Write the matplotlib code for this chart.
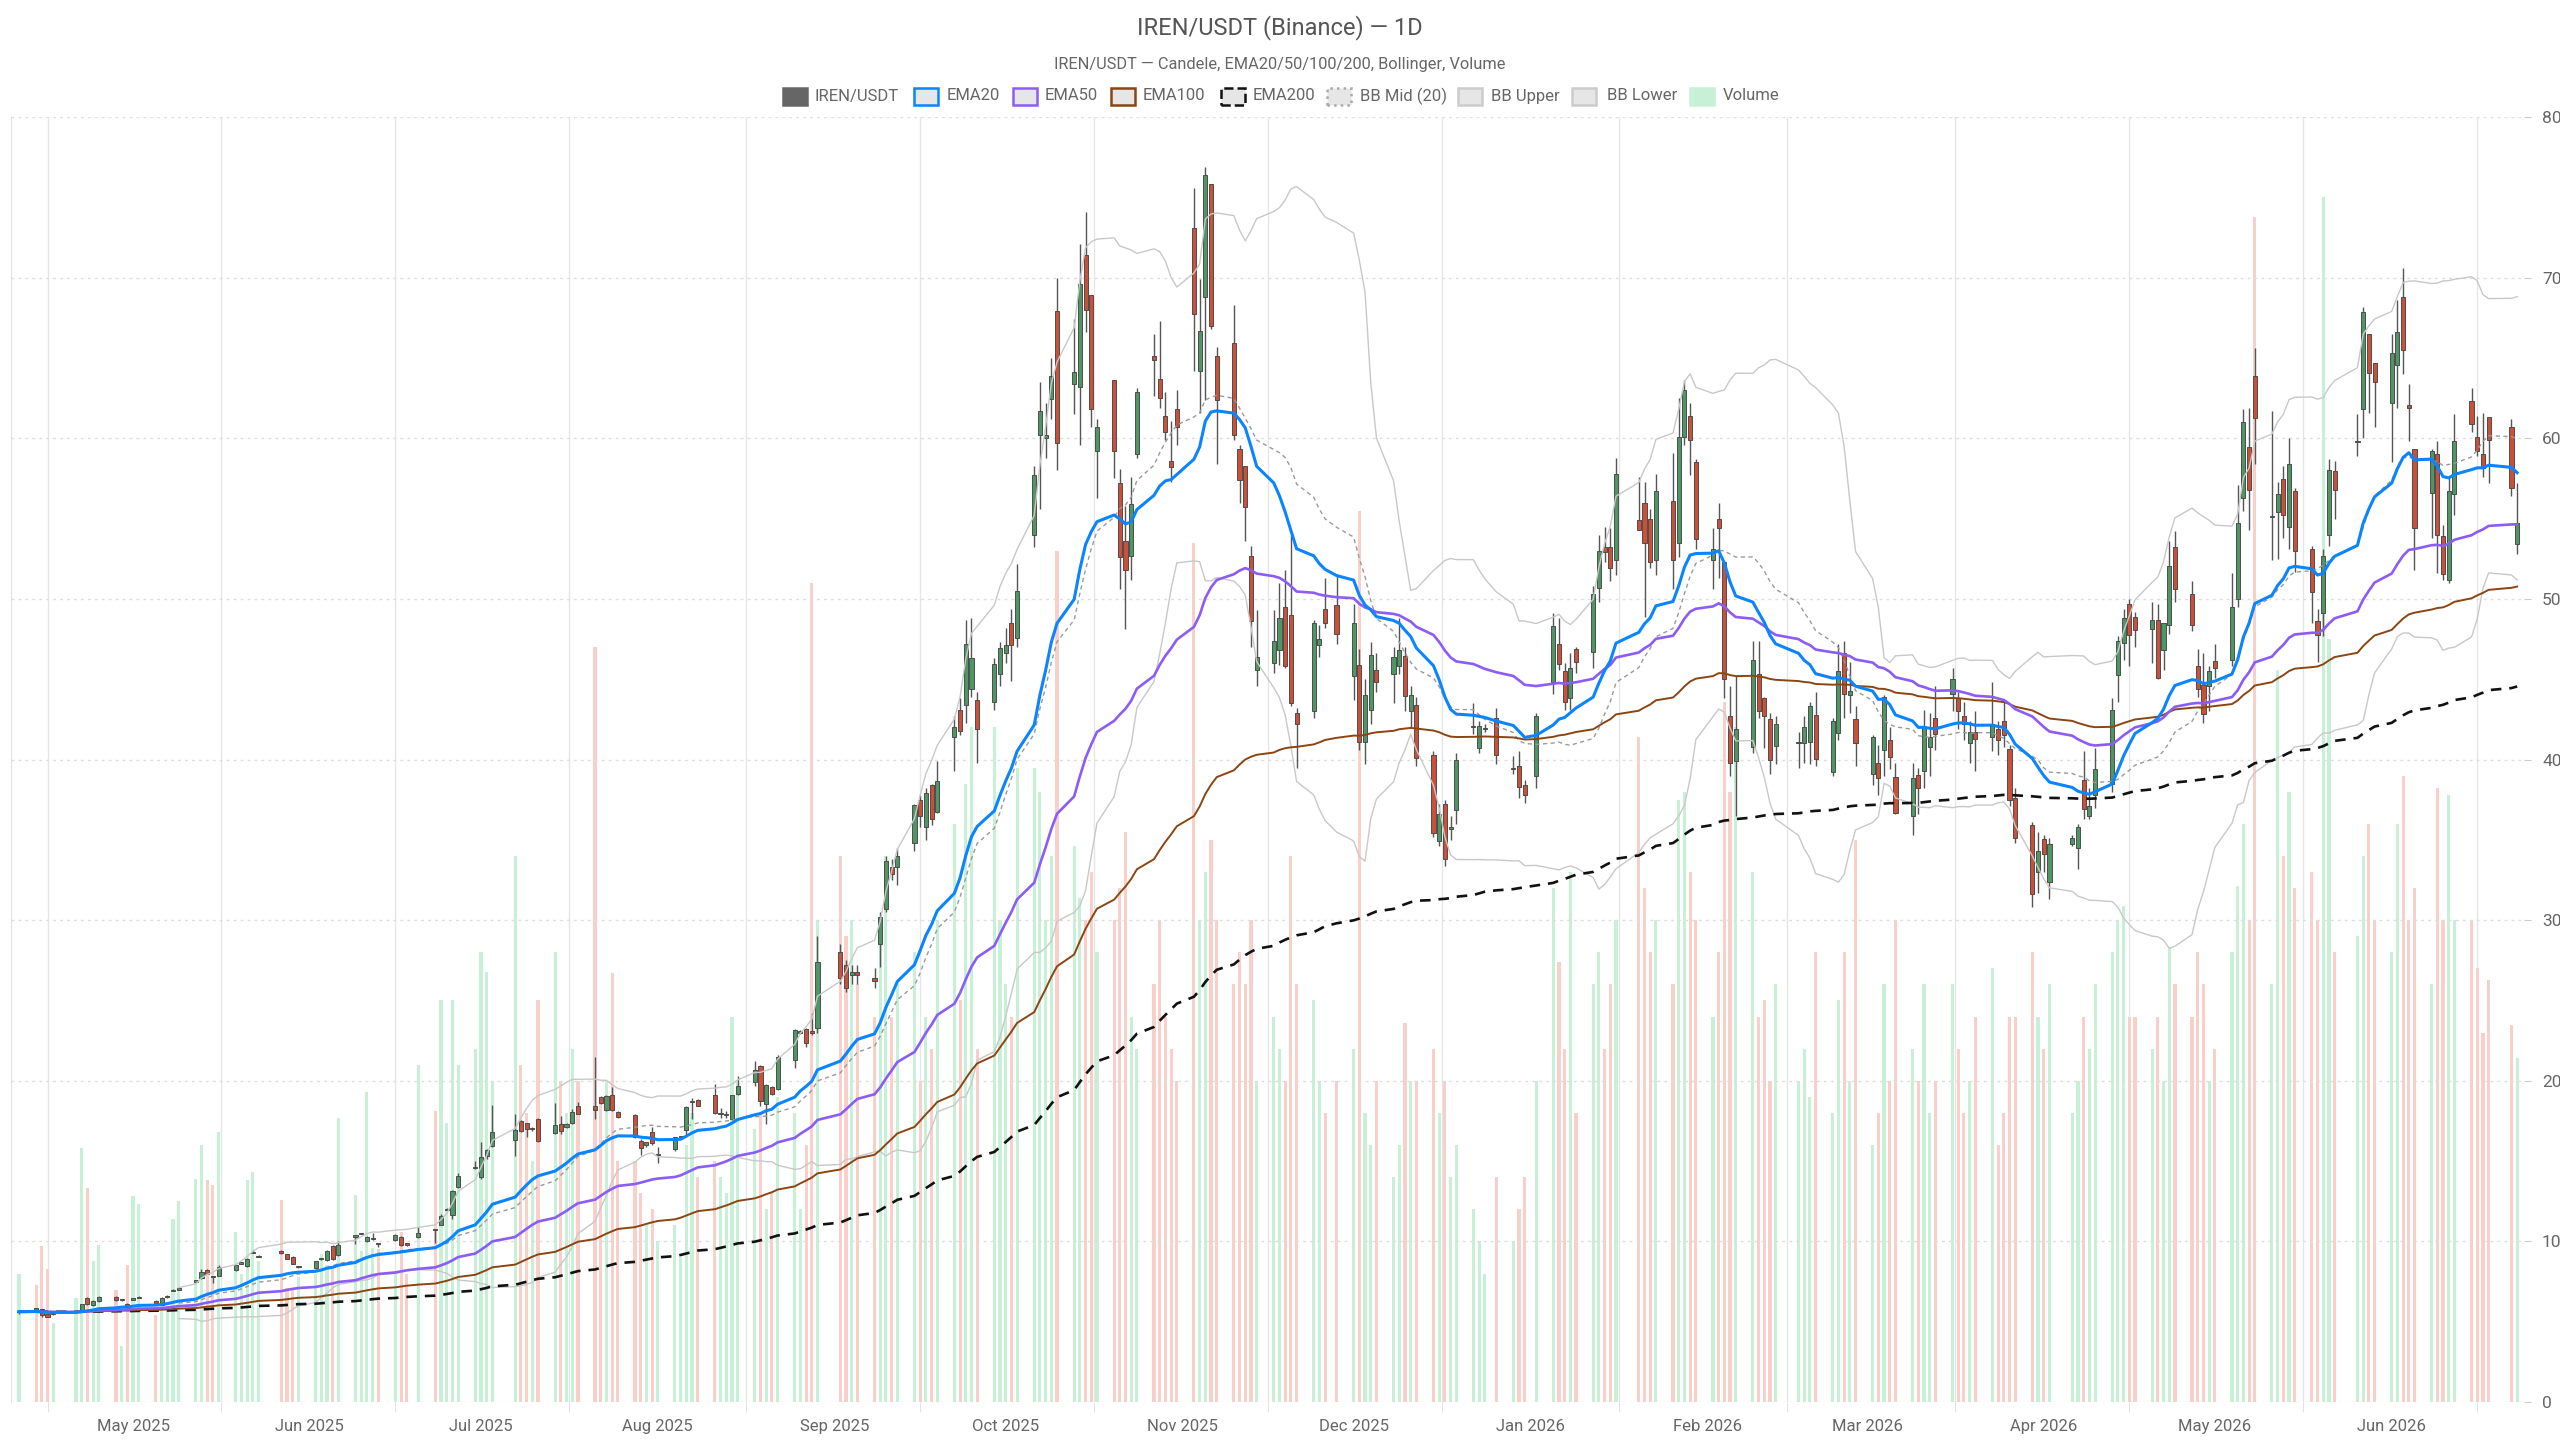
import numpy as np
import pandas as pd
import matplotlib
matplotlib.use("Agg")
import matplotlib.pyplot as plt
import matplotlib.dates as mdates
from matplotlib.patches import Rectangle

plt.rcParams['font.family'] = ['Roboto', 'DejaVu Sans']

# US market holidays inside the range (no candles on these days)
holidays = ["2025-04-18", "2025-05-26", "2025-06-19", "2025-07-04", "2025-09-01",
            "2025-11-27", "2025-12-25", "2026-01-01", "2026-01-19", "2026-02-16",
            "2026-04-03", "2026-05-25", "2026-06-19"]

# one line per week
opens = [
    5.60,
    5.83, 5.77, 5.45, 5.48,
    5.58, 5.68, 6.48, 6.05, 6.30,
    6.56, 6.35, 6.12, 6.38, 6.48,
    6.30, 6.05, 6.55, 6.92, 7.00,
    7.50, 7.70, 8.22, 7.82, 7.85,
    8.19, 8.62, 8.44, 9.28, 9.05,
    9.42, 9.20, 9.04, 8.40,
    8.33, 8.88, 8.85, 9.70, 9.17,
    10.30, 10.48, 10.00, 10.15, 9.88,
    10.10, 10.30, 9.82, 10.25,
    10.72, 11.03, 11.94, 11.65, 13.37,
    14.56, 14.00, 15.29, 15.95,
    16.30, 17.47, 17.36, 17.00, 17.61,
    16.74, 17.30, 17.10, 17.36, 18.44,
    18.44, 18.96, 18.19, 19.13, 18.03,
    17.84, 16.28, 15.99, 16.78, 15.39,
    15.76, 16.50, 16.95, 18.67, 18.80,
    19.09, 17.94, 17.88, 17.63, 19.20,
    19.92, 20.90, 18.57, 19.60, 19.48,
    21.30, 22.95, 23.22, 23.10, 23.30,
    28.00, 27.20, 26.60, 26.80,
    26.40, 28.50, 30.70, 33.30, 33.30,
    34.80, 37.46, 35.80, 38.40, 36.76,
    41.40, 43.07, 43.40, 44.36, 43.70,
    43.60, 45.35, 46.64, 48.50, 47.54,
    54.00, 60.20, 60.00, 62.45, 67.90,
    63.40, 63.20, 71.40, 68.90, 59.20,
    63.60, 57.20, 53.60, 52.70, 59.00,
    65.10, 63.70, 61.40, 58.60, 61.80,
    73.10, 64.20, 68.80, 75.80, 65.10,
    65.90, 59.30, 58.30, 52.70, 45.60,
    46.00, 46.80, 49.50, 49.00, 42.90,
    43.00, 47.10, 49.40, 49.60,
    45.20, 45.90, 41.10, 43.10, 45.60,
    45.30, 45.80, 46.45, 43.00, 43.40,
    40.30, 34.90, 37.20, 35.70, 36.85,
    42.00, 40.70, 41.90, 42.60,
    39.40, 39.60, 38.40, 39.00,
    44.80, 47.20, 45.50, 43.80, 46.90,
    46.70, 50.70, 53.20, 53.20, 52.45,
    54.90, 56.00, 55.00, 52.40,
    56.10, 53.50, 60.10, 61.40, 58.50,
    52.40, 55.00, 52.30, 42.70, 39.90,
    40.80, 45.30, 43.80, 42.55, 40.85,
    41.00, 41.00, 41.10, 42.80,
    39.20, 41.65, 46.60, 44.00, 42.50,
    39.10, 39.80, 40.60, 41.20, 38.90,
    36.50, 39.05, 39.30, 40.80, 42.60,
    44.10, 43.80, 42.70, 41.00, 41.70,
    41.40, 41.90, 42.40, 40.65, 37.60,
    35.90, 33.00, 35.05, 32.40,
    34.75, 34.50, 38.75, 36.50, 37.80,
    38.45, 45.25, 47.25, 49.70, 48.90,
    48.10, 48.70, 46.80, 48.35, 53.25,
    50.30, 45.85, 44.65, 44.60, 46.15,
    46.20, 50.00, 56.30, 59.45, 63.90,
    55.10, 55.40, 57.45, 54.50, 56.70,
    53.10, 48.60, 49.10, 54.00, 57.95,
    59.75, 61.80, 66.50, 64.70,
    62.20, 64.55, 68.80, 62.10, 59.30,
    56.60, 59.00, 53.90, 51.20, 56.50,
    62.30, 60.05, 59.00, 61.30,
    60.70, 53.40,
]
highs = [
    5.68,
    5.86, 5.80, 5.50, 5.58,
    5.64, 6.12, 6.55, 6.32, 6.62,
    6.60, 6.40, 6.15, 6.45, 6.58,
    6.35, 6.55, 6.65, 7.05, 7.12,
    7.62, 8.25, 8.26, 7.84, 8.55,
    8.60, 8.70, 8.95, 9.48, 9.15,
    9.45, 9.22, 9.06, 8.45,
    8.78, 8.95, 9.45, 9.75, 10.00,
    10.35, 10.55, 10.35, 10.52, 9.92,
    10.45, 10.35, 9.85, 10.90,
    10.80, 11.70, 12.10, 13.20, 14.25,
    15.00, 16.20, 15.75, 18.50,
    17.90, 17.55, 17.40, 17.10, 17.70,
    18.60, 17.80, 17.40, 18.25, 18.70,
    21.50, 19.05, 19.10, 19.60, 18.10,
    17.90, 16.35, 16.20, 17.10, 15.90,
    16.50, 16.55, 18.40, 18.90, 18.85,
    19.80, 18.30, 18.10, 19.10, 20.30,
    21.20, 21.00, 19.80, 19.65, 21.60,
    23.20, 23.15, 23.30, 24.20, 29.00,
    28.50, 27.50, 27.20, 27.20,
    27.00, 30.50, 34.00, 33.80, 34.50,
    37.20, 37.80, 38.20, 38.50, 39.90,
    42.70, 43.80, 48.70, 48.80, 44.20,
    46.30, 47.30, 48.20, 49.40, 52.20,
    58.30, 63.50, 62.20, 65.00, 70.00,
    67.40, 72.10, 74.10, 68.90, 61.20,
    63.60, 58.10, 55.80, 57.60, 63.10,
    66.50, 67.30, 62.90, 61.10, 63.00,
    75.60, 69.90, 76.90, 75.80, 65.70,
    68.30, 59.60, 58.30, 53.30, 49.30,
    49.30, 51.00, 51.80, 54.00, 43.20,
    48.70, 48.40, 51.30, 51.40,
    49.70, 46.90, 45.00, 47.30, 46.60,
    47.00, 48.80, 47.00, 44.60, 43.90,
    40.50, 37.20, 37.50, 36.50, 40.40,
    43.50, 42.40, 42.20, 43.20,
    40.20, 40.50, 38.70, 42.90,
    49.10, 48.80, 46.00, 46.60, 47.00,
    50.80, 54.00, 54.50, 54.40, 58.80,
    57.60, 57.30, 55.60, 57.80,
    59.10, 62.50, 63.60, 62.20, 58.70,
    54.40, 56.00, 52.30, 44.60, 45.20,
    47.40, 47.40, 43.90, 42.90, 42.70,
    41.70, 42.70, 43.60, 44.20,
    42.60, 47.20, 47.40, 46.10, 43.30,
    41.50, 40.90, 44.00, 42.00, 39.80,
    39.80, 39.50, 43.10, 42.90, 44.60,
    45.70, 44.20, 43.60, 42.40, 43.00,
    44.80, 42.40, 43.60, 40.90, 38.20,
    36.10, 35.50, 35.30, 35.10,
    35.30, 36.00, 40.50, 38.20, 40.70,
    43.80, 47.70, 49.40, 50.00, 49.20,
    49.80, 49.70, 48.30, 53.60, 54.20,
    51.10, 46.90, 46.60, 45.80, 47.20,
    51.60, 57.10, 61.80, 61.90, 65.60,
    61.70, 57.30, 58.30, 60.00, 56.90,
    53.30, 49.40, 53.10, 58.70, 58.60,
    61.50, 68.20, 66.50, 64.70,
    66.50, 68.60, 70.60, 63.40, 59.30,
    59.30, 59.80, 54.60, 57.60, 61.50,
    63.10, 61.40, 61.60, 61.30,
    61.20, 57.20,
]
lows = [
    5.50,
    5.70, 5.30, 5.28, 5.44,
    5.55, 5.64, 6.05, 6.00, 6.25,
    6.30, 6.30, 5.73, 6.32, 6.45,
    6.15, 6.02, 6.50, 6.90, 6.98,
    7.45, 7.65, 7.95, 7.40, 7.82,
    8.15, 8.60, 8.40, 9.25, 9.00,
    9.20, 8.88, 8.58, 8.35,
    8.30, 8.85, 8.80, 8.85, 9.12,
    9.85, 10.45, 9.98, 10.10, 9.65,
    10.05, 9.70, 9.72, 10.20,
    9.90, 11.00, 11.90, 11.40, 13.30,
    14.50, 13.90, 15.10, 15.90,
    15.30, 16.80, 16.50, 16.90, 16.20,
    16.70, 16.70, 17.05, 17.30, 17.90,
    17.60, 18.55, 18.10, 18.10, 17.65,
    16.45, 15.40, 15.90, 16.00, 14.90,
    15.60, 16.45, 16.60, 17.60, 18.40,
    17.95, 17.70, 17.70, 17.55, 19.10,
    19.70, 18.40, 17.30, 19.10, 19.40,
    20.80, 22.90, 22.10, 22.85, 23.00,
    26.00, 25.50, 26.00, 26.00,
    25.80, 27.10, 30.50, 32.50, 32.20,
    34.30, 35.80, 35.00, 35.90, 36.70,
    39.30, 41.50, 42.30, 43.90, 39.80,
    43.10, 44.60, 46.00, 44.90, 47.00,
    53.20, 55.60, 58.80, 61.20, 58.00,
    61.50, 59.60, 66.60, 60.70, 56.30,
    57.50, 50.60, 48.10, 51.20, 58.80,
    62.60, 61.90, 59.90, 57.30, 59.60,
    64.20, 61.60, 62.40, 66.80, 58.40,
    59.90, 56.00, 53.60, 47.00, 44.60,
    45.40, 45.90, 45.70, 43.30, 39.50,
    42.60, 46.40, 48.20, 47.20,
    43.70, 40.60, 39.70, 42.20, 44.20,
    43.50, 45.30, 43.00, 42.00, 39.60,
    35.20, 34.60, 33.40, 35.00, 36.00,
    41.60, 40.40, 41.70, 39.70,
    39.10, 37.60, 37.30, 38.20,
    44.10, 45.60, 43.10, 43.10, 45.40,
    45.70, 49.80, 52.30, 51.10, 51.50,
    54.30, 48.90, 51.90, 51.50,
    50.60, 52.60, 59.60, 57.70, 53.10,
    50.60, 51.30, 43.80, 39.00, 36.50,
    40.40, 42.60, 40.70, 39.10, 39.70,
    39.50, 39.80, 39.70, 39.60,
    38.95, 41.20, 42.60, 42.90, 39.60,
    38.40, 37.80, 39.00, 39.40, 36.60,
    35.30, 36.60, 38.20, 39.00, 40.60,
    43.00, 41.90, 41.20, 39.80, 39.30,
    40.50, 40.30, 40.80, 37.10, 34.80,
    30.80, 31.70, 33.00, 31.30,
    34.60, 33.20, 36.30, 36.30, 37.00,
    38.00, 43.60, 46.20, 45.80, 47.00,
    46.00, 45.00, 45.60, 47.80, 49.80,
    48.00, 43.90, 42.30, 43.00, 45.10,
    45.80, 49.50, 55.50, 54.30, 58.40,
    52.40, 52.50, 53.80, 53.10, 51.70,
    48.50, 46.10, 47.70, 53.30, 55.00,
    58.90, 60.00, 61.60, 60.70,
    58.50, 61.90, 64.00, 59.80, 51.80,
    53.80, 51.60, 51.20, 51.00, 55.20,
    60.40, 58.90, 57.60, 57.20,
    56.40, 52.80,
]
closes = [
    5.62,
    5.73, 5.42, 5.32, 5.52,
    5.61, 6.08, 6.10, 6.28, 6.55,
    6.35, 6.36, 5.98, 6.42, 6.52,
    6.18, 6.50, 6.58, 6.96, 7.05,
    7.54, 8.12, 8.00, 7.80, 8.40,
    8.56, 8.66, 8.90, 9.32, 9.12,
    9.27, 8.90, 8.60, 8.42,
    8.75, 8.92, 9.40, 8.90, 9.77,
    10.32, 10.50, 10.30, 10.18, 9.85,
    10.40, 9.80, 9.80, 10.50,
    10.70, 11.55, 11.96, 13.15, 14.04,
    14.58, 15.24, 15.70, 16.84,
    16.95, 16.90, 16.99, 17.02, 16.22,
    17.26, 16.90, 17.30, 18.05, 17.92,
    18.19, 18.60, 19.02, 18.15, 17.74,
    16.49, 15.80, 16.16, 16.12, 15.40,
    16.47, 16.52, 18.36, 18.68, 18.44,
    17.99, 17.95, 17.89, 19.09, 19.70,
    20.69, 18.71, 19.75, 19.17, 21.47,
    23.14, 23.10, 22.35, 23.00, 27.40,
    26.40, 25.80, 26.80, 26.60,
    26.20, 30.20, 33.65, 32.85, 33.97,
    37.15, 36.50, 37.90, 36.30, 38.67,
    42.00, 41.80, 47.20, 46.35, 41.90,
    45.97, 46.97, 47.15, 47.10, 50.50,
    57.70, 61.70, 60.20, 63.90, 59.70,
    64.10, 69.60, 68.00, 61.80, 60.70,
    59.20, 52.60, 51.80, 55.90, 62.90,
    64.90, 62.50, 60.40, 58.20, 60.70,
    67.75, 66.70, 76.40, 67.00, 62.40,
    60.20, 57.40, 55.70, 48.60, 46.40,
    47.40, 48.80, 45.80, 43.50, 42.20,
    48.50, 47.50, 48.50, 47.80,
    48.50, 41.10, 44.00, 46.50, 44.80,
    46.40, 46.80, 43.95, 44.00, 40.10,
    35.40, 36.60, 33.80, 35.75, 40.00,
    42.07, 42.07, 41.95, 40.30,
    39.45, 38.30, 37.80, 42.70,
    48.30, 45.95, 43.60, 45.70, 46.05,
    50.30, 53.00, 52.90, 51.90, 57.80,
    54.30, 53.50, 52.30, 56.70,
    52.40, 60.10, 63.00, 59.90, 53.70,
    53.10, 54.40, 45.00, 39.80, 41.90,
    46.20, 43.00, 42.70, 40.00, 42.20,
    41.05, 42.00, 43.30, 40.05,
    42.40, 45.50, 44.10, 44.25, 41.00,
    41.40, 38.85, 43.90, 40.15, 36.70,
    38.85, 38.20, 42.00, 41.40, 41.60,
    45.00, 43.00, 42.20, 41.70, 41.30,
    42.20, 41.20, 41.50, 37.50, 35.10,
    31.60, 34.30, 34.10, 34.75,
    35.10, 35.80, 36.90, 37.10, 39.40,
    43.10, 47.40, 48.80, 47.75, 48.05,
    48.70, 45.10, 48.50, 52.05, 50.60,
    48.40, 44.40, 42.85, 45.50, 45.70,
    49.50, 54.75, 61.00, 56.75, 61.25,
    55.15, 56.55, 55.20, 58.40, 52.95,
    50.45, 47.75, 52.70, 58.05, 56.80,
    59.80, 67.85, 64.05, 63.50,
    65.30, 66.60, 65.50, 61.90, 54.40,
    59.20, 54.00, 51.55, 56.70, 59.80,
    60.90, 59.20, 58.15, 59.90,
    56.90, 54.70,
]
# volume in thousands
volumes = [
    80,
    73, 97, 83, 49,
    65, 158, 133, 88, 98,
    70, 35, 85, 128, 123,
    54, 60, 60, 114, 125,
    139, 160, 138, 135, 168,
    106, 80, 138, 143, 88,
    126, 71, 70, 78,
    80, 92, 85, 83, 177,
    129, 94, 193, 96, 95,
    80, 106, 80, 210,
    181, 250, 174, 250, 210,
    220, 280, 268, 200,
    340, 210, 180, 150, 250,
    280, 200, 180, 220, 200,
    470, 190, 200, 267, 150,
    150, 130, 110, 120, 100,
    110, 90, 160, 180, 140,
    150, 140, 130, 240, 200,
    170, 180, 120, 130, 190,
    180, 120, 160, 510, 300,
    340, 290, 300, 260,
    240, 300, 340, 240, 260,
    280, 200, 240, 220, 300,
    360, 250, 385, 420, 220,
    420, 300, 260, 240, 395,
    395, 380, 300, 340, 530,
    346, 314, 300, 330, 280,
    300, 320, 355, 240, 220,
    260, 300, 240, 220, 200,
    535, 300, 330, 350, 300,
    260, 280, 260, 300, 200,
    240, 220, 200, 340, 260,
    250, 200, 180, 200,
    220, 555, 180, 160, 200,
    140, 160, 236, 200, 200,
    220, 180, 200, 140, 160,
    120, 100, 80, 140,
    100, 120, 140, 200,
    320, 274, 220, 330, 180,
    260, 280, 220, 260, 300,
    414, 320, 280, 300,
    260, 375, 380, 330, 300,
    240, 280, 436, 380, 420,
    330, 240, 250, 200, 260,
    200, 220, 190, 280,
    180, 250, 280, 200, 350,
    160, 180, 260, 200, 300,
    220, 200, 260, 180, 200,
    260, 220, 180, 200, 240,
    270, 160, 180, 240, 240,
    280, 240, 220, 260,
    180, 200, 240, 220, 260,
    280, 300, 309, 240, 240,
    220, 240, 200, 283, 260,
    240, 280, 260, 200, 220,
    280, 321, 360, 300, 738,
    260, 456, 340, 380, 320,
    330, 300, 750, 475, 280,
    290, 340, 360, 300,
    280, 360, 390, 300, 320,
    260, 382, 300, 378, 300,
    300, 270, 230, 263,
    235, 214,
]

month_starts = pd.date_range("2025-05-01", "2026-06-01", freq="MS")

# ---- derived series
dates = pd.bdate_range("2025-04-11", "2026-06-23", freq="C", holidays=holidays)
n = min(len(dates), len(opens), len(highs), len(lows), len(closes), len(volumes))
dates = dates[:n]
o = np.array(opens[:n]); h = np.array(highs[:n]); l = np.array(lows[:n]); c = np.array(closes[:n])
v = np.array(volumes[:n])
x = mdates.date2num(dates)

cs = pd.Series(c)
ema = {p: cs.ewm(span=p, adjust=False).mean().values for p in (20, 50, 100, 200)}
bb_mid = cs.rolling(20).mean()
bb_std = cs.rolling(20).std(ddof=0)
bb_up = (bb_mid + 2 * bb_std).values
bb_lo = (bb_mid - 2 * bb_std).values
bb_mid = bb_mid.values

W, H = 2560, 1440
L, R, T, B = 11, 2524, 117, 1402
fig = plt.figure(figsize=(W / 100, H / 100), dpi=100)
axv = fig.add_axes([L / W, 1 - B / H, (R - L) / W, (B - T) / H])
ax = axv.twinx()

# volume
up = c >= o
vcol = np.where(up, '#c8f0d6', '#f9cfc9')
axv.bar(x, v, width=0.55, color=vcol, linewidth=0, zorder=2)
axv.set_ylim(0, 800)
axv.set_yticks([])

x0 = mdates.date2num(pd.Timestamp("2025-04-11")) - 1.4
x1 = mdates.date2num(pd.Timestamp("2026-06-23")) + 1.2
axv.set_xlim(x0, x1)

# month gridlines halfway between month labels
edges = mdates.date2num(pd.date_range("2025-04-01", "2026-07-01", freq="MS"))
mids = (edges[:-1] + edges[1:]) / 2
for m in mids:
    axv.axvline(m, color='#e6e6e6', lw=1, zorder=0)
axv.set_xticks(mdates.date2num(month_starts))
axv.set_xticklabels([d.strftime("%b %Y") for d in month_starts])
axv.set_xticks(mids, minor=True)
axv.tick_params(axis='x', which='major', length=0, pad=12, labelsize=12, labelcolor='#666')
axv.tick_params(axis='x', which='minor', length=7, color='#dddddd')
for s in ['top', 'right', 'bottom']:
    axv.spines[s].set_visible(False)
axv.spines['left'].set_color('#e3e3e3')

# price
for y in range(0, 81, 10):
    ax.axhline(y, color='#dedede', lw=1, ls=(0, (2, 3)), zorder=1)
ax.set_ylim(0, 80)
ax.set_yticks(range(0, 81, 10))
ax.tick_params(axis='y', length=5, color='#cccccc', pad=8, labelsize=12.5, labelcolor='#666')
for s in ax.spines.values():
    s.set_visible(False)

ax.vlines(x, l, h, color='#555555', lw=1, zorder=3)
bot = np.minimum(o, c)
hgt = np.maximum(np.abs(c - o), 0.07)
ax.bar(x, hgt, bottom=bot, width=0.72, color=np.where(up, '#4f9665', '#cc4f38'),
       edgecolor='#4d4d4d', linewidth=0.7, zorder=4)

ax.plot(x, bb_up, color='#c8c8c8', lw=1.0, zorder=5)
ax.plot(x, bb_lo, color='#c8c8c8', lw=1.0, zorder=5)
ax.plot(x, bb_mid, color='#9a9a9a', lw=1.0, ls=(0, (3, 2.5)), zorder=5)
ax.plot(x, ema[200], color='#111111', lw=1.9, ls=(0, (4, 3)), zorder=6)
ax.plot(x, ema[100], color='#8b4513', lw=1.4, zorder=6)
ax.plot(x, ema[50], color='#8b5cf6', lw=1.9, zorder=6)
ax.plot(x, ema[20], color='#0a84ff', lw=2.2, zorder=7)
ax.set_xlim(x0, x1)

# titles
fig.text(0.5, 1 - 28 / H, "IREN/USDT (Binance) — 1D", ha='center', va='center',
         fontsize=17, color='#555555')
fig.text(0.5, 1 - 65 / H, "IREN/USDT — Candele, EMA20/50/100/200, Bollinger, Volume",
         ha='center', va='center', fontsize=11.8, color='#666666')

# legend
leg_items = [
    ("IREN/USDT", 795, 815, '#666666', '#666666', '-'),
    ("EMA20", 926, 947, '#e6e6e6', '#0a84ff', '-'),
    ("EMA50", 1025, 1045, '#e6e6e6', '#8b5cf6', '-'),
    ("EMA100", 1123, 1143, '#e6e6e6', '#8b4513', '-'),
    ("EMA200", 1233, 1253, '#e6e6e6', '#111111', '--'),
    ("BB Mid (20)", 1339, 1360, '#e6e6e6', '#aaaaaa', ':'),
    ("BB Upper", 1470, 1491, '#e6e6e6', '#cccccc', '-'),
    ("BB Lower", 1584, 1607, '#e6e6e6', '#cccccc', '-'),
    ("Volume", 1702, 1723, '#c8f0d6', '#c8f0d6', '-'),
]
ly = 96
bw, bh = 24, 17
for label, cx, tx, fc, ec, ls in leg_items:
    fig.add_artist(Rectangle(((cx - bw / 2) / W, 1 - (ly + bh / 2) / H), bw / W, bh / H,
                             transform=fig.transFigure, facecolor=fc, edgecolor=ec,
                             linewidth=1.8, linestyle=ls))
    fig.text(tx / W, 1 - ly / H, label, ha='left', va='center', fontsize=12, color='#666666')

fig.savefig("out.png", dpi=100)
